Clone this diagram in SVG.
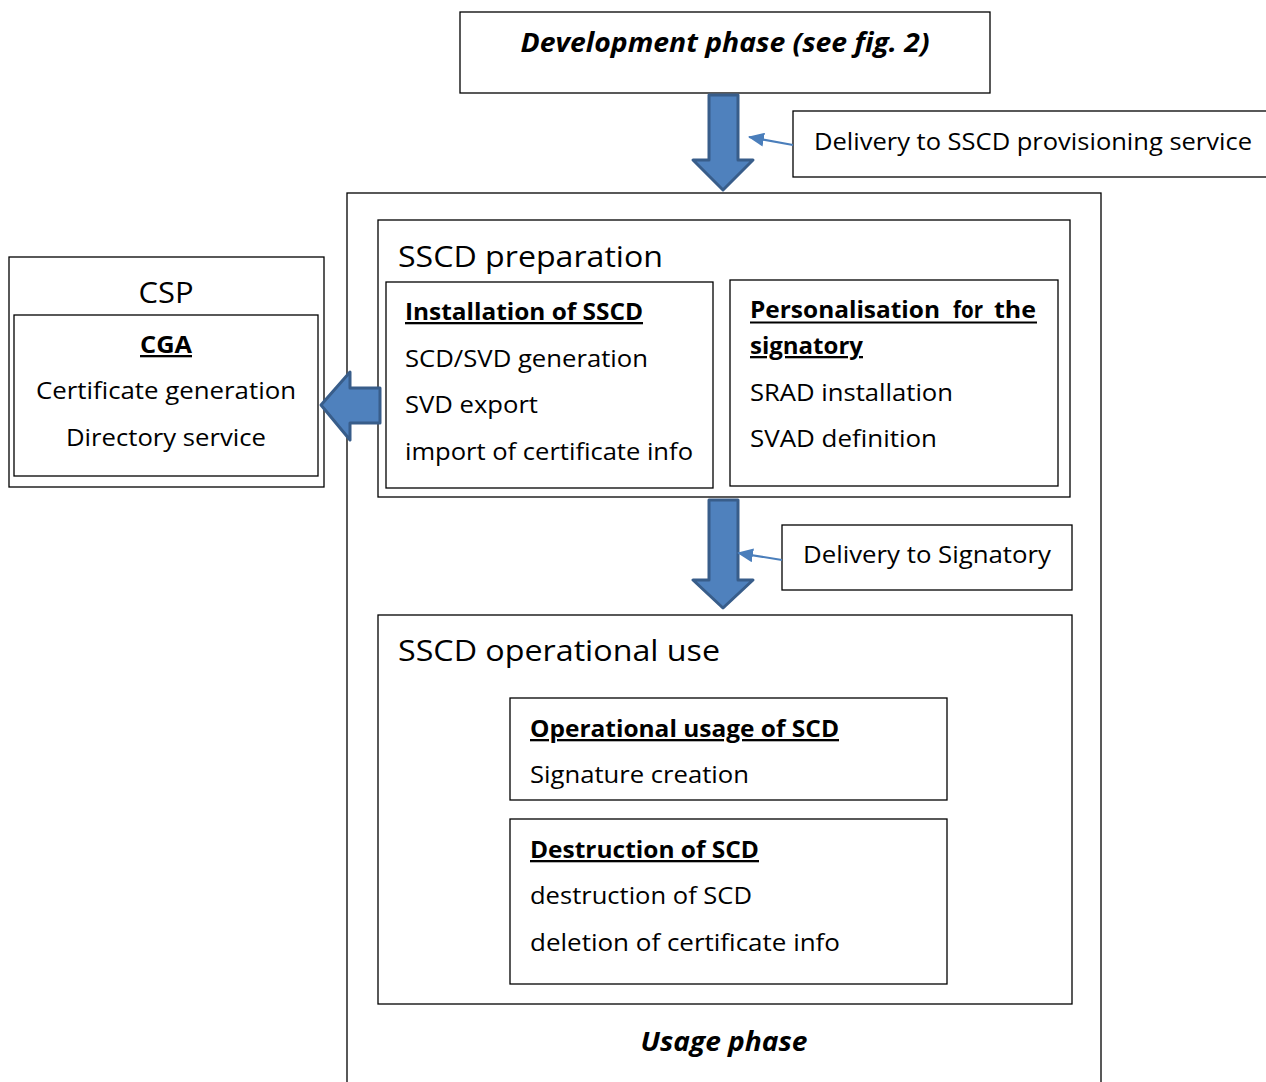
<svg xmlns="http://www.w3.org/2000/svg" width="1266" height="1082" viewBox="0 0 1266 1082">
<style>
.box{fill:#fff;stroke:#000;stroke-width:1.3}
.t{font-family:"Open Sans","Noto Sans",sans-serif;font-size:23px;fill:#000}
.title{font-size:30px}
.b{font-weight:bold}
.i{font-style:italic}
.u{text-decoration:underline}
.big{fill:#4f81bd;stroke:#385d8a;stroke-width:3;stroke-linejoin:round}
.call{stroke:#4a7ebb;stroke-width:2;fill:none}
</style>
<defs>
<marker id="ah2" viewBox="0 0 16 14" refX="15" refY="7" markerWidth="16" markerHeight="14" orient="auto" markerUnits="userSpaceOnUse">
<path d="M0,0 L16,7 L0,14 Z" fill="#4a7ebb"/>
</marker>
</defs>

<g id="usage-phase">
<rect class="box" x="347" y="193" width="754" height="895"/>
<text class="t b i" x="724" y="1051" text-anchor="middle" textLength="167" lengthAdjust="spacingAndGlyphs" style="font-size:26px">Usage phase</text>
</g>

<g id="development-phase">
<rect class="box" x="460" y="12" width="530" height="81"/>
<text class="t b i" x="725" y="52" text-anchor="middle" textLength="409" lengthAdjust="spacingAndGlyphs" style="font-size:26px">Development phase (see fig. 2)</text>
</g>

<g id="delivery-provisioning">
<rect class="box" x="793" y="111" width="480" height="66"/>
<text class="t" x="814" y="150" textLength="438" lengthAdjust="spacingAndGlyphs">Delivery to SSCD provisioning service</text>
</g>

<g id="sscd-preparation">
<rect class="box" x="378" y="220" width="692" height="277"/>
<text class="t title" x="398" y="267" textLength="265" lengthAdjust="spacingAndGlyphs">SSCD preparation</text>
</g>

<g id="installation">
<rect class="box" x="386" y="282" width="327" height="206"/>
<text class="t b u" x="405" y="320" textLength="238" lengthAdjust="spacingAndGlyphs">Installation of SSCD</text>
<text class="t" x="405" y="367" textLength="243" lengthAdjust="spacingAndGlyphs">SCD/SVD generation</text>
<text class="t" x="405" y="413" textLength="133" lengthAdjust="spacingAndGlyphs">SVD export</text>
<text class="t" x="405" y="460" textLength="288" lengthAdjust="spacingAndGlyphs">import of certificate info</text>
</g>

<g id="personalisation">
<rect class="box" x="730" y="280" width="328" height="206"/>
<text class="t b" y="318"><tspan x="750" textLength="190" lengthAdjust="spacingAndGlyphs">Personalisation</tspan> <tspan x="953" textLength="30" lengthAdjust="spacingAndGlyphs">for</tspan> <tspan x="994" textLength="42" lengthAdjust="spacingAndGlyphs">the</tspan></text>
<line x1="750" y1="322.5" x2="1037" y2="322.5" stroke="#000" stroke-width="2"/>
<text class="t b u" x="750" y="354" textLength="113" lengthAdjust="spacingAndGlyphs">signatory</text>
<text class="t" x="750" y="401" textLength="203" lengthAdjust="spacingAndGlyphs">SRAD installation</text>
<text class="t" x="750" y="447" textLength="187" lengthAdjust="spacingAndGlyphs">SVAD definition</text>
</g>

<g id="csp">
<rect class="box" x="9" y="257" width="315" height="230"/>
<text class="t title" x="166" y="303" text-anchor="middle" textLength="55" lengthAdjust="spacingAndGlyphs">CSP</text>
</g>

<g id="cga">
<rect class="box" x="14" y="315" width="304" height="161"/>
<text class="t b u" x="166" y="353" text-anchor="middle" textLength="52" lengthAdjust="spacingAndGlyphs">CGA</text>
<text class="t" x="166" y="399" text-anchor="middle" textLength="260" lengthAdjust="spacingAndGlyphs">Certificate generation</text>
<text class="t" x="166" y="446" text-anchor="middle" textLength="200" lengthAdjust="spacingAndGlyphs">Directory service</text>
</g>

<g id="delivery-signatory">
<rect class="box" x="782" y="525" width="290" height="65"/>
<text class="t" x="803" y="563" textLength="248" lengthAdjust="spacingAndGlyphs">Delivery to Signatory</text>
</g>

<g id="sscd-operational">
<rect class="box" x="378" y="615" width="694" height="389"/>
<text class="t title" x="398" y="661" textLength="322" lengthAdjust="spacingAndGlyphs">SSCD operational use</text>
</g>

<g id="operational-usage">
<rect class="box" x="510" y="698" width="437" height="102"/>
<text class="t b u" x="530" y="737" textLength="309" lengthAdjust="spacingAndGlyphs">Operational usage of SCD</text>
<text class="t" x="530" y="783" textLength="219" lengthAdjust="spacingAndGlyphs">Signature creation</text>
</g>

<g id="destruction">
<rect class="box" x="510" y="819" width="437" height="165"/>
<text class="t b u" x="530" y="858" textLength="229" lengthAdjust="spacingAndGlyphs">Destruction of SCD</text>
<text class="t" x="530" y="904" textLength="222" lengthAdjust="spacingAndGlyphs">destruction of SCD</text>
<text class="t" x="530" y="951" textLength="310" lengthAdjust="spacingAndGlyphs">deletion of certificate info</text>
</g>

<g id="connectors">
<path class="big" d="M709,95 L738,95 L738,160 L753,160 L723,190 L693,160 L709,160 Z"/>
<path class="big" d="M709,500 L738,500 L738,580 L753,580 L723,608 L693,580 L709,580 Z"/>
<path class="big" d="M380,388 L350,388 L350,372 L321,405 L350,440 L350,423 L380,423 Z"/>
<line class="call" x1="793" y1="145" x2="749" y2="137" marker-end="url(#ah2)"/>
<line class="call" x1="782" y1="560" x2="738" y2="553" marker-end="url(#ah2)"/>
</g>
</svg>
